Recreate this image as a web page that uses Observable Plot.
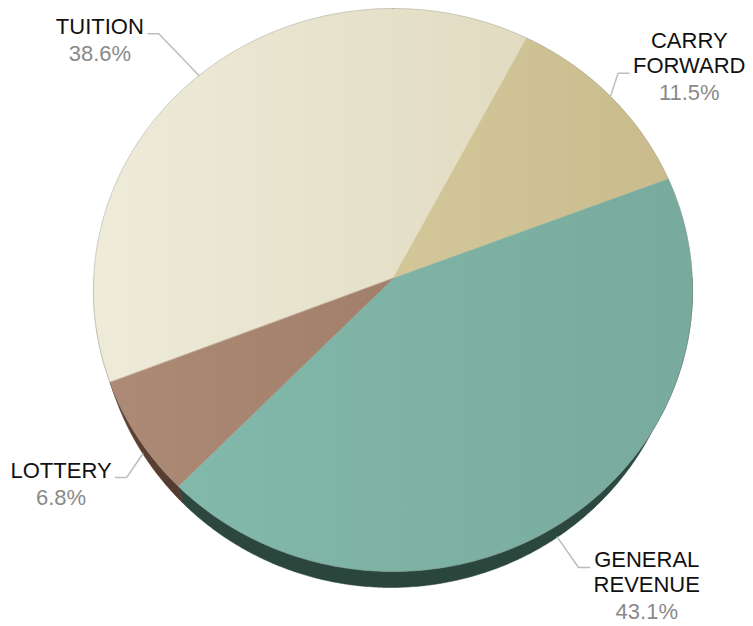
<!DOCTYPE html>
<html><head><meta charset="utf-8">
<script src="https://cdn.jsdelivr.net/npm/d3@7"></script>
<script src="https://cdn.jsdelivr.net/npm/@observablehq/plot@0.6"></script>
<style>body{margin:0;background:#fff} #chart svg{display:block}</style>
</head><body><div id="chart"></div>
<script>
// ---- data ----
const categories = ["TUITION", "CARRY FORWARD", "GENERAL REVENUE", "LOTTERY"];
const shares = [38.6, 11.5, 43.1, 6.8];
const shareLabels = ["38.6%", "11.5%", "43.1%", "6.8%"];

// ---- styles ----
const topColors = [["#eeebd9", "#e1dbc1"], ["#d3c79a", "#c9bb8c"], ["#82b9aa", "#78aa9d"], ["#ad8a76", "#a27f6b"]];
const rimColors = ["#aaa48a", "#8f8460", "#2d4a40", "#5a3e32"];
const leaderLen = [58, 36, 37, 45];

// ---- layout ----
const W = 753, H = 626;
const geo = {vx: 392.5, vy: 278, A: 281, B: 299.3, k: 0.0408, depth: 16, shrink: 8, skew: -2};
const pieStart = -111.4 * Math.PI / 180;
const FONT = "'Liberation Sans', Arial, sans-serif";
const FS = 22;

const arcs = d3.pie().sort(null).value(d => d)
  .startAngle(pieStart).endAngle(pieStart + 2 * Math.PI)(shares);

function edgePoint(t, bottom = false) {
  const den = 1 + geo.k * Math.cos(t);
  const ox = geo.B * Math.sin(t) / den, oy = -geo.A * Math.cos(t) / den;
  if (!bottom) return [geo.vx + ox, geo.vy + oy];
  return [geo.vx + ox * (geo.B - geo.shrink) / geo.B + geo.skew, geo.vy + oy + geo.depth];
}
function arcPoints(a0, a1, bottom = false) {
  const n = Math.max(2, Math.ceil((a1 - a0) / (Math.PI / 360)));
  return d3.range(n + 1).map(i => edgePoint(a0 + (a1 - a0) * i / n, bottom));
}
const toRows = (pts, i) => pts.map(([x, y]) => ({x, y, slice: i}));

// top surfaces
const topPolys = arcs.map((a, i) => toRows([[geo.vx, geo.vy], ...arcPoints(a.startAngle, a.endAngle)], i));
// side (rim) polygons for the front half
const sidePolys = [];
arcs.forEach((a, i) => {
  for (const off of [-2 * Math.PI, 0, 2 * Math.PI]) {
    const lo = Math.max(a.startAngle, Math.PI / 2 + off);
    const hi = Math.min(a.endAngle, 3 * Math.PI / 2 + off);
    if (hi > lo) {
      const top = arcPoints(lo, hi), bot = arcPoints(lo, hi, true).reverse();
      sidePolys.push({i, rows: toRows(top.concat(bot), i)});
    }
  }
});
const outline = toRows(arcPoints(0, 2 * Math.PI), 0);

// labels
const ctx = document.createElement("canvas").getContext("2d");
ctx.font = `${FS}px ${FONT}`;
const leaderRows = [], nameRows = [], pctRows = [];
arcs.forEach((a, i) => {
  const mid = (a.startAngle + a.endAngle) / 2;
  const lower = Math.cos(mid) < 0;
  const T = edgePoint(mid);
  const S = edgePoint(mid, lower);
  let dx = T[0] - geo.vx, dy = T[1] - geo.vy;
  const len = Math.hypot(dx, dy); dx /= len; dy /= len;
  const E = [S[0] + dx * leaderLen[i], S[1] + dy * leaderLen[i]];
  const side = Math.sin(mid) >= 0 ? 1 : -1;
  let Hx = E[0] + side * 11;
  const names = categories[i].split(" ");
  const w = Math.max(...names.map(s => ctx.measureText(s).width), ctx.measureText(shareLabels[i]).width);
  let cx = Hx + side * (4 + w / 2);
  let shift = 0;
  if (cx + w / 2 > W - 8) shift = (W - 8) - (cx + w / 2);
  if (cx - w / 2 < 10) shift = 10 - (cx - w / 2);
  cx += shift; Hx += shift; E[0] += shift;
  leaderRows.push({x: S[0], y: S[1], slice: i}, {x: E[0], y: E[1], slice: i}, {x: Hx, y: E[1], slice: i});
  const first = lower ? E[1] : E[1] - (names.length - 1) * 25;
  names.forEach((s, j) => nameRows.push({x: cx, y: first + j * 25, text: s}));
  pctRows.push({x: cx, y: first + (names.length - 1) * 25 + 27, text: shareLabels[i]});
});

const marks = [];
sidePolys.forEach(p => marks.push(Plot.line(p.rows, {x: "x", y: "y", curve: "linear-closed",
  fill: `url(#rim${p.i})`, stroke: `url(#rim${p.i})`, strokeWidth: 0.6})));
topPolys.forEach((rows, i) => marks.push(Plot.line(rows, {x: "x", y: "y", curve: "linear-closed",
  fill: `url(#top${i})`, stroke: `url(#top${i})`, strokeWidth: 0.6})));
marks.push(Plot.line(outline, {x: "x", y: "y", curve: "linear-closed", stroke: "#808080", strokeOpacity: 0.3, strokeWidth: 1}));
marks.push(Plot.line(leaderRows, {x: "x", y: "y", z: "slice", stroke: "#bdbdbd", strokeWidth: 1.5, curve: "linear"}));
marks.push(Plot.text(nameRows, {x: "x", y: "y", text: "text", fill: "#111", fontSize: FS, fontFamily: FONT, lineAnchor: "bottom", textAnchor: "middle"}));
marks.push(Plot.text(pctRows, {x: "x", y: "y", text: "text", fill: "#8a8a8a", fontSize: FS, fontFamily: FONT, lineAnchor: "bottom", textAnchor: "middle"}));

const svg = Plot.plot({
  width: W, height: H, margin: 0,
  x: {domain: [0, W], range: [0, W], axis: null},
  y: {domain: [0, H], range: [0, H], axis: null},
  style: {background: "#fff"},
  marks
});

const defs = d3.select(svg).insert("defs", ":first-child");
topColors.forEach((c, i) => {
  const g = defs.append("linearGradient").attr("id", `top${i}`).attr("x1", 0).attr("x2", 1).attr("y1", 0).attr("y2", 0);
  g.append("stop").attr("offset", 0).attr("stop-color", c[0]);
  g.append("stop").attr("offset", 1).attr("stop-color", c[1]);
});
rimColors.forEach((c, i) => {
  const g = defs.append("linearGradient").attr("id", `rim${i}`).attr("x1", 0).attr("x2", 0).attr("y1", 0).attr("y2", 1);
  g.append("stop").attr("offset", 0).attr("stop-color", d3.color(c).brighter(0.25));
  g.append("stop").attr("offset", 1).attr("stop-color", d3.color(c).darker(0.2));
});

document.getElementById("chart").appendChild(svg);
</script>
</body></html>
